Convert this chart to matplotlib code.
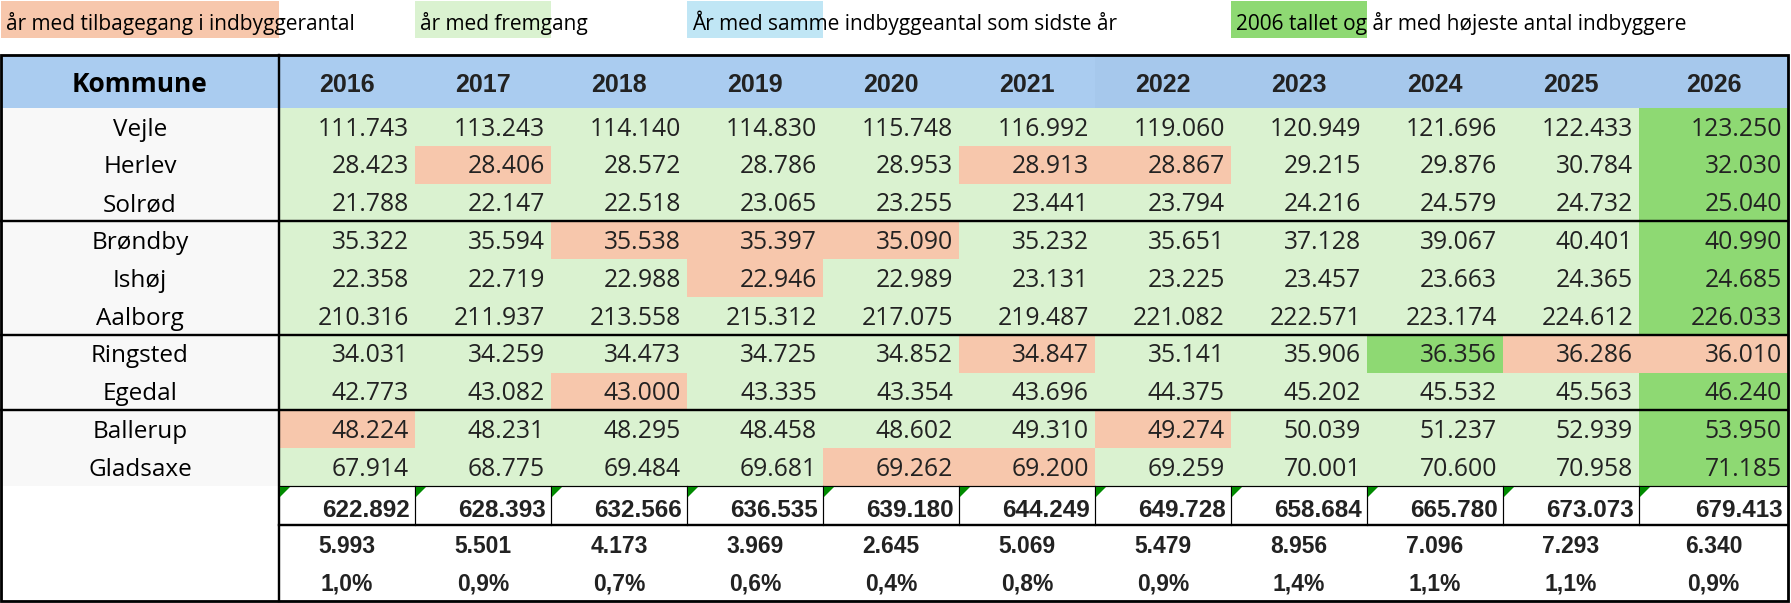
import matplotlib
matplotlib.use("Agg")
import matplotlib.pyplot as plt
from matplotlib.patches import Rectangle, Polygon

# --- data -------------------------------------------------------------
years = ["2016", "2017", "2018", "2019", "2020", "2021",
         "2022", "2023", "2024", "2025", "2026"]
kommuner = ["Vejle", "Herlev", "Solrød", "Brøndby", "Ishøj", "Aalborg",
            "Ringsted", "Egedal", "Ballerup", "Gladsaxe"]
group_sizes = [3, 3, 2, 2]

vejle = [111743, 113243, 114140, 114830, 115748, 116992, 119060, 120949, 121696, 122433, 123250]
herlev = [28423, 28406, 28572, 28786, 28953, 28913, 28867, 29215, 29876, 30784, 32030]
solrod = [21788, 22147, 22518, 23065, 23255, 23441, 23794, 24216, 24579, 24732, 25040]
brondby = [35322, 35594, 35538, 35397, 35090, 35232, 35651, 37128, 39067, 40401, 40990]
ishoj = [22358, 22719, 22988, 22946, 22989, 23131, 23225, 23457, 23663, 24365, 24685]
aalborg = [210316, 211937, 213558, 215312, 217075, 219487, 221082, 222571, 223174, 224612, 226033]
ringsted = [34031, 34259, 34473, 34725, 34852, 34847, 35141, 35906, 36356, 36286, 36010]
egedal = [42773, 43082, 43000, 43335, 43354, 43696, 44375, 45202, 45532, 45563, 46240]
ballerup = [48224, 48231, 48295, 48458, 48602, 49310, 49274, 50039, 51237, 52939, 53950]
gladsaxe = [67914, 68775, 69484, 69681, 69262, 69200, 69259, 70001, 70600, 70958, 71185]
values = [vejle, herlev, solrod, brondby, ishoj, aalborg, ringsted, egedal, ballerup, gladsaxe]

# g = fremgang, d = tilbagegang, h = hoejeste antal
status = ["ggggggggggh",   # Vejle
          "gdgggddgggh",   # Herlev
          "ggggggggggh",   # Solrød
          "ggdddgggggh",   # Brøndby
          "gggdggggggh",   # Ishøj
          "ggggggggggh",   # Aalborg
          "gggggdgghdd",   # Ringsted
          "ggdgggggggh",   # Egedal
          "dgggggdgggh",   # Ballerup
          "ggggddggggh"]   # Gladsaxe

totals = [622892, 628393, 632566, 636535, 639180, 644249, 649728, 658684, 665780, 673073, 679413]
changes = [5993, 5501, 4173, 3969, 2645, 5069, 5479, 8956, 7096, 7293, 6340]
pct = [1.0, 0.9, 0.7, 0.6, 0.4, 0.8, 0.9, 1.4, 1.1, 1.1, 0.9]

legend_labels = ["år med tilbagegang i indbyggerantal", "år med fremgang",
                 "År med samme indbyggeantal som sidste år",
                 "2006 tallet og år med højeste antal indbyggere"]
legend_codes = ["d", "g", "s", "h"]
legend_cols = [-1, 1, 3, 7]

# --- style --------------------------------------------------------------
fills = {"g": "#DAF2D0", "d": "#F7C7AC", "h": "#8ED973", "s": "#C0E6F5"}
HEAD_L = "#AACCF0"
HEAD_R = "#A6C8EC"
NAME_BG = "#F8F8F8"
TXT = "#222222"
DATA_FONT = ["Open Sans", "DejaVu Sans"]
HEAD_FONT = ["Liberation Sans", "DejaVu Sans"]


def fmt(n):
    return "{:,}".format(n).replace(",", ".")


def px(p):
    return p * 72 / 100


W, H = 1791, 603
fig = plt.figure(figsize=(W / 100, H / 100), dpi=100)
ax = fig.add_axes([0, 0, 1, 1])
ax.set_xlim(0, W)
ax.set_ylim(H, 0)
ax.axis("off")

# geometry
LEFT, NAME_R, RIGHT = 1, 279, 1788
COL_W = 136
col_l = [NAME_R + COL_W * i for i in range(len(years))]
col_r = col_l[1:] + [RIGHT]
TOP, HEAD_B = 55, 108
ROW_H = 37.8
row_t = [HEAD_B + ROW_H * i for i in range(len(kommuner))]
TOT_T = HEAD_B + ROW_H * len(kommuner)
TOT_B = 525
SUM_B = [563, 601]


def col_span(j):
    if j < 0:
        return LEFT, NAME_R
    return col_l[j], col_r[j]


def rect(x0, y0, x1, y1, color, z=1):
    ax.add_patch(Rectangle((x0, y0), x1 - x0, y1 - y0, facecolor=color,
                           edgecolor="none", zorder=z))


# legend cells on top
for lab, code, j in zip(legend_labels, legend_codes, legend_cols):
    x0, x1 = col_span(j)
    rect(max(x0, 0), 1, x1, 38, fills[code])
    ax.text(x0 + 5, 30, lab, fontsize=15, family=DATA_FONT, color="black",
            weight="medium", ha="left", va="baseline", zorder=4)

# header
rect(LEFT, TOP, col_r[5], HEAD_B, HEAD_L)
rect(col_l[6], TOP, RIGHT, HEAD_B, HEAD_R)
ax.text((LEFT + NAME_R) / 2, 92, "Kommune", fontsize=19, family=DATA_FONT,
        weight="bold", color="black", ha="center", va="baseline", zorder=4)
for j, y in enumerate(years):
    ax.text((col_l[j] + col_r[j]) / 2, 92, y, fontsize=18, family=HEAD_FONT,
            weight="bold", color=TXT, ha="center", va="baseline", zorder=4)

# body
rect(LEFT, HEAD_B, NAME_R, TOT_T, NAME_BG)
for i, name in enumerate(kommuner):
    yt = row_t[i]
    yb = yt + ROW_H
    ax.text((LEFT + NAME_R) / 2, yt + ROW_H / 2 + 8.7, name, fontsize=17.5,
            family=DATA_FONT, color="black", ha="center", va="baseline", zorder=4)
    for j, v in enumerate(values[i]):
        rect(col_l[j], yt, col_r[j], yb + 0.3, fills[status[i][j]])
        ax.text(col_r[j] - 6, yt + ROW_H / 2 + 8.7, fmt(v), fontsize=17.8,
                family=DATA_FONT, color=TXT, ha="right", va="baseline", zorder=4)

# totals and summary rows
for j in range(len(years)):
    ax.text(col_r[j] - 5, 517, fmt(totals[j]), fontsize=17.5, family=HEAD_FONT,
            weight="bold", color=TXT, ha="right", va="baseline", zorder=4)
    cx = (col_l[j] + col_r[j]) / 2
    ax.text(cx, 553, fmt(changes[j]), fontsize=16.5, family=HEAD_FONT,
            weight="bold", color=TXT, ha="center", va="baseline", zorder=4)
    ax.text(cx, 590, ("%.1f%%" % pct[j]).replace(".", ","), fontsize=16.5,
            family=HEAD_FONT, weight="bold", color=TXT, ha="center",
            va="baseline", zorder=4)
    # green error-indicator triangles
    x0 = col_l[j] + 1
    ax.add_patch(Polygon([(x0, TOT_T + 1), (x0 + 10, TOT_T + 1), (x0, TOT_T + 11)],
                         closed=True, facecolor="#008A00", edgecolor="none", zorder=5))
    if j > 0:
        ax.plot([col_l[j], col_l[j]], [TOT_T, TOT_B], color="black",
                lw=px(1.2), zorder=3)

# borders
thick = px(2.4)
ax.plot([NAME_R, NAME_R], [TOP, SUM_B[-1]], color="black", lw=thick, zorder=3)
edge = 0
for g in group_sizes[:-1]:
    edge += g
    y = row_t[edge]
    ax.plot([LEFT, RIGHT], [y, y], color="black", lw=thick, zorder=3)
ax.plot([NAME_R, RIGHT], [TOT_T, TOT_T], color="black", lw=px(1.2), zorder=3)
ax.plot([NAME_R, RIGHT], [TOT_B, TOT_B], color="black", lw=thick, zorder=3)
ax.add_patch(Rectangle((LEFT, TOP), RIGHT - LEFT, SUM_B[-1] - TOP, facecolor="none",
                       edgecolor="black", lw=px(2.8), zorder=6))

fig.savefig("out.png", dpi=100)
